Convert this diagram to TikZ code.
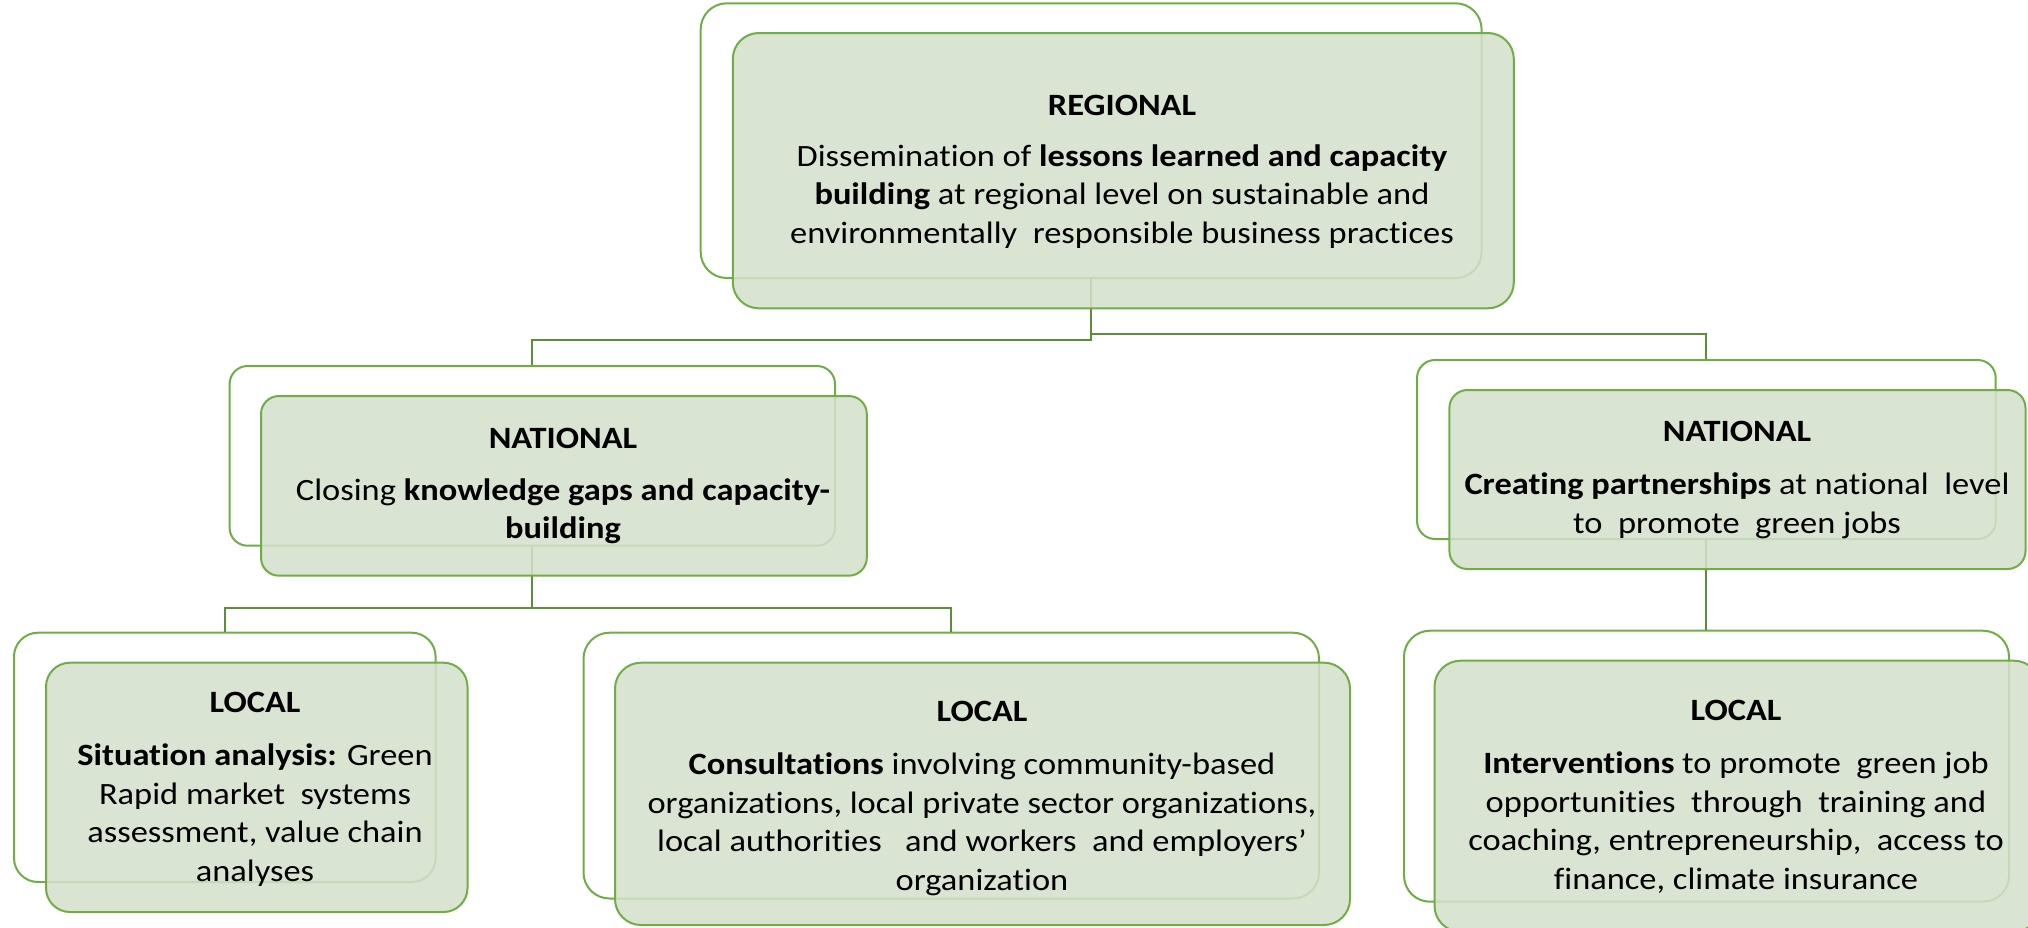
\documentclass[tikz,border=0pt]{standalone}
\usepackage{fontspec}
\setmainfont{Carlito}[FakeStretch=1.11, Ligatures=NoCommon]
\usetikzlibrary{fit}

\definecolor{edgecol}{HTML}{70AD47}
\definecolor{wirecol}{HTML}{5B8F3A}
\definecolor{leafcol}{HTML}{D3E1CB}

\tikzset{
  backbox/.style={draw=edgecol, line width=1pt, fill=white, inner sep=0pt},
  frontbox/.style={draw=edgecol, line width=1pt, fill=leafcol, fill opacity=0.86, inner sep=0pt},
  wire/.style={draw=wirecol, line width=1pt},
  head/.style={font=\fontsize{15.5}{19.25}\selectfont\bfseries, anchor=base, inner sep=0pt},
  % multi-line text: the base anchor sits on the last line
  body/.style={font=\fontsize{15.5}{19.25}\selectfont, align=center, anchor=base, inner sep=0pt},
}

\begin{document}
\begin{tikzpicture}[x=0.5pt,y=-0.5pt]
\clip (0,0) rectangle (2028,927);

% back outlines
\node[backbox, rounded corners=13pt, fit={(700.7,3.3) (1481.6,278)}] (rB) {};
\node[backbox, rounded corners=9pt, fit={(229.6,366) (835,545.7)}] (nlB) {};
\node[backbox, rounded corners=9pt, fit={(1417,360) (1995.7,539)}] (nrB) {};
\node[backbox, rounded corners=12pt, fit={(14,632.7) (435.6,882)}] (l1B) {};
\node[backbox, rounded corners=13pt, fit={(583.5,632.7) (1319,898.5)}] (l2B) {};
\node[backbox, rounded corners=13pt, fit={(1404,630.7) (2009,901.7)}] (l3B) {};

% hierarchy connectors
\draw[wire] (rB.south) -- ++(0,61) -| (nlB.north);
\draw[wire] (rB.south) -- ++(0,54.7) -| (nrB.north);
\draw[wire] (nlB.south) -- ++(0,61) -| (l1B.north);
\draw[wire] (nlB.south) -- ++(0,61) -| (l2B.north);
\draw[wire] (nrB.south) -- (nrB.south |- l3B.north);

% translucent front panels
\node[frontbox, rounded corners=13pt, fit={(732.8,33) (1513.8,308.3)}] (rF) {};
\node[frontbox, rounded corners=9pt, fit={(261,396) (866.8,575.7)}] (nlF) {};
\node[frontbox, rounded corners=9pt, fit={(1449.4,390) (2025.5,569)}] (nrF) {};
\node[frontbox, rounded corners=12pt, fit={(46,662.7) (467.5,912)}] (l1F) {};
\node[frontbox, rounded corners=13pt, fit={(615,662.7) (1350,925)}] (l2F) {};
\node[frontbox, rounded corners=13pt, fit={(1434.5,660.7) (2040,931.7)}] (l3F) {};

% texts
\node[head] (rH) at (1122,115) {REGIONAL};
\node[body] (rT) at (1122,243) {Dissemination of \textbf{lessons learned and capacity}\\
  \textbf{building} at regional level on sustainable and\\
  environmentally\ \ responsible\ business practices};

\node[head] (nlH) at (563,448.3) {NATIONAL};
\node[body] (nlT) at (563,538.5) {Closing \textbf{knowledge gaps and capacity-}\\
  \textbf{building}};

\node[head] (nrH) at (1737,441) {NATIONAL};
\node[body] (nrT) at (1737,533.3) {\textbf{Creating partnerships} at national\ \ level\\
  to\ \ promote\ \ green jobs};

\node[head] (l1H) at (255,712.7) {LOCAL};
\node[body] (l1T) at (255,881) {\textbf{Situation analysis:} Green\\
  Rapid market\ \ systems\\ assessment, value chain\\ analyses};

\node[head] (l2H) at (982,721.7) {LOCAL};
\node[body] (l2T) at (982,890) {\textbf{Consultations} involving community-based\\
  organizations,\ local private sector organizations,\\
  local authorities\ \ \ and workers\ \ and employers’\\ organization};

\node[head] (l3H) at (1736,720.7) {LOCAL};
\node[body] (l3T) at (1736,889) {\textbf{Interventions} to promote\ \ green job\\
  opportunities\ \ through\ \ training and\\
  coaching, entrepreneurship,\ \ access to\\ finance, climate insurance};
\end{tikzpicture}
\end{document}
